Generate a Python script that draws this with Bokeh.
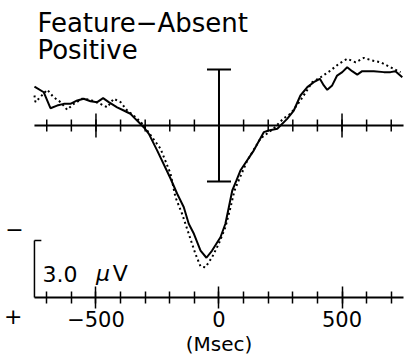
import numpy as np
from bokeh.plotting import figure
from bokeh.models import Range1d, FixedTicker, Label
from bokeh.embed import file_html
from bokeh.resources import INLINE

# ---- data (time in ms, amplitude in microvolts; positive plotted downward) ----
solid_ms = [-750, -712, -685, -658, -631, -604, -576, -550, -522, -495, -471, -448,
            -414, -387, -360, -333, -306, -285, -251, -197, -170, -143, -123, -102,
            -75, -51, -28, 6, 26, 40, 54, 71, 87, 141, 182, 202, 237, 277, 304, 331,
            359, 385, 410, 426, 440, 460, 480, 501, 521, 541, 562, 582, 629, 670,
            697, 717, 745]
solid_uv = [-2.05, -1.75, -0.91, -1.05, -1.14, -1.14, -1.32, -1.41, -1.28, -1.23, -1.44, -1.23,
            -0.96, -0.79, -0.62, -0.26, 0.09, 0.44, 1.32, 2.79, 3.59, 4.30, 5.17, 5.70,
            6.58, 6.96, 6.58, 5.88, 5.17, 4.30, 3.42, 2.89, 2.37, 1.32, 0.35, 0.26, 0.17,
            -0.35, -0.79, -1.58, -2.02, -2.28, -2.46, -2.11, -1.88, -2.11, -2.63, -2.81,
            -3.07, -2.86, -2.68, -2.86, -2.86, -2.81, -2.81, -2.86, -2.54]

dotted_ms = [-750, -746, -698, -672, -644, -617, -590, -556, -522, -482, -454, -428,
             -400, -373, -339, -312, -292, -238, -197, -177, -150, -123, -96, -75, -55,
             -28, -1, 26, 47, 63, 80, 115, 169, 222, 262, 291, 331, 379, 413, 453, 487,
             521, 555, 589, 623, 657, 690, 724, 738]
dotted_uv = [-1.58, -1.23, -1.88, -1.49, -1.23, -0.83, -1.14, -1.41, -1.35, -1.14, -0.96, -1.41,
             -1.23, -0.79, -0.44, -0.09, 0.26, 1.21, 2.53, 3.77, 4.65, 5.70, 6.75, 7.42, 7.46,
             6.93, 6.23, 5.35, 4.30, 3.42, 2.89, 1.84, 0.68, 0.16, -0.37, -0.62, -1.32, -2.28,
             -2.54, -2.89, -3.25, -3.51, -3.33, -3.56, -3.42, -3.33, -3.11, -2.89, -2.81]

epoch_ms = [-750, 750]
minor_ticks_ms = list(range(-700, 701, 100))
major_ticks_ms = [-500, 0, 500]
error_bar_uv = 2.95
scale_bar_uv = 3.0

FONT = "DejaVu Sans"

y_base = 9.05   # level of the lower time axis
p = figure(frame_width=405, frame_height=357, output_backend="svg", toolbar_location=None,
           x_range=Range1d(-888, 758), y_range=Range1d(12.21, -6.58),
           min_border=0, outline_line_color=None, y_axis_location=None,
           background_fill_color="white", border_fill_color="white")
p.grid.visible = False

# lower time axis (Bokeh axis, fixed inside the frame)
ax = p.xaxis[0]
ax.fixed_location = y_base
ax.ticker = FixedTicker(ticks=major_ticks_ms, minor_ticks=minor_ticks_ms)
ax.bounds = (epoch_ms[0], epoch_ms[1])
ax.axis_line_width = 2
ax.axis_line_color = "black"
ax.major_tick_in = 11
ax.major_tick_out = 11
ax.major_tick_line_width = 1.5
ax.minor_tick_in = 6
ax.minor_tick_out = 6
ax.minor_tick_line_width = 1.5
ax.major_label_overrides = {-500: "\u2212500", 0: "0", 500: "500"}
ax.major_label_text_font = FONT
ax.major_label_text_font_size = "21px"
ax.major_label_text_color = "black"
ax.major_label_standoff = 3
ax.axis_label = "(Msec)"
ax.axis_label_text_font = FONT
ax.axis_label_text_font_size = "20px"
ax.axis_label_text_font_style = "normal"
ax.axis_label_text_color = "black"
ax.axis_label_standoff = 1

# zero-line axis with crossing ticks
p.line(x=epoch_ms, y=[0, 0], line_color="black", line_width=2)
p.scatter(x=minor_ticks_ms, y=[0] * len(minor_ticks_ms), marker="dash", angle=np.pi / 2,
          size=12, line_color="black", line_width=1.5)
p.scatter(x=major_ticks_ms, y=[0] * len(major_ticks_ms), marker="dash", angle=np.pi / 2,
          size=24, line_color="black", line_width=1.5)

# error bar at 0 ms
p.segment(x0=[0], y0=[-error_bar_uv], x1=[0], y1=[error_bar_uv], line_color="black", line_width=2)
p.scatter(x=[0, 0], y=[-error_bar_uv, error_bar_uv], marker="dash", size=24,
          line_color="black", line_width=2)

# calibration bracket
p.segment(x0=[epoch_ms[0]], y0=[y_base], x1=[epoch_ms[0]], y1=[y_base - scale_bar_uv],
          line_color="black", line_width=1.5)
p.segment(x0=[epoch_ms[0]], y0=[y_base - scale_bar_uv], x1=[epoch_ms[0] + 28],
          y1=[y_base - scale_bar_uv], line_color="black", line_width=1.5)

# waveforms
p.line(x=dotted_ms, y=dotted_uv, line_color="black", line_width=2, line_dash="2 3")
p.line(x=solid_ms, y=solid_uv, line_color="black", line_width=2)

# texts
def lab(x, y, t, size="20px", align="left", base="alphabetic", style="normal"):
    p.add_layout(Label(x=x, y=y, text=t, text_font=FONT, text_font_size=size,
                       text_align=align, text_baseline=base, text_font_style=style,
                       text_color="black"))

lab(-738, -5.42, "Feature\u2212Absent", size="26px")
lab(-738, -4.0, "Positive", size="26px")
lab(-717, 7.79, "3.0", size="22px")
lab(-500, 7.79, "\u03bc", size="22px", style="italic")
lab(-432, 7.79, "V", size="22px")
lab(-831, 5.47, "\u2212", align="center", base="middle", size="22px")
lab(-836, 10.0, "+", align="center", base="middle", size="22px")

open("out.html", "w").write(file_html(p, INLINE))
